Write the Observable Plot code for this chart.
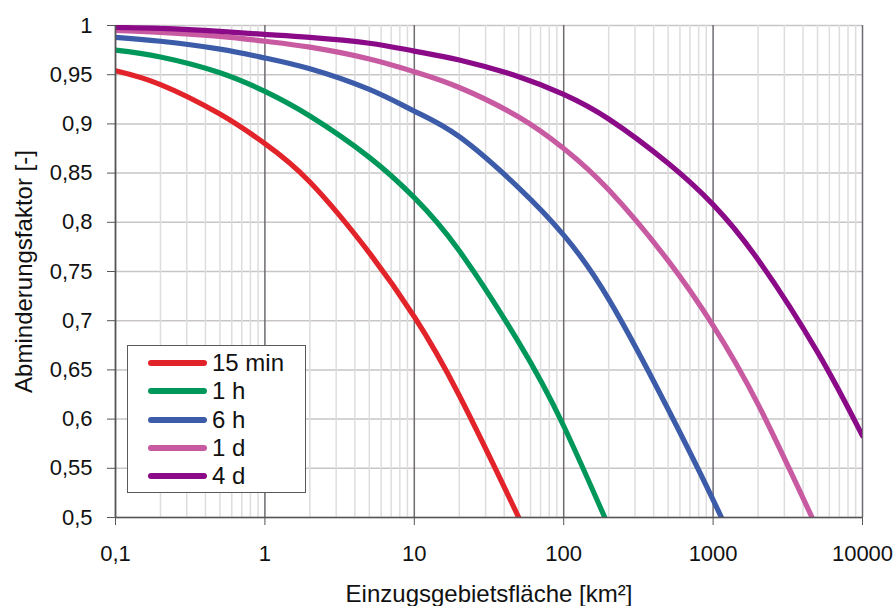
<!DOCTYPE html>
<html>
<head>
<meta charset="utf-8">
<script src="https://cdn.jsdelivr.net/npm/d3@7"></script>
<script src="https://cdn.jsdelivr.net/npm/@observablehq/plot@0.6"></script>
<style>
  body { margin: 0; background: #fff; font-family: "Liberation Sans", Arial, sans-serif; }
  #chart { position: relative; width: 896px; height: 606px; overflow: hidden; }
  #chart svg { display: block; }
  #legend {
    position: absolute; left: 127px; top: 345px; width: 179px; height: 148px;
    box-sizing: border-box; border: 1.5px solid #5a5a5a; background: #fff;
  }
  .row { position: absolute; left: 0; height: 28px; display: flex; align-items: center; }
  .swatch { margin-left: 20px; width: 59px; height: 6px; border-radius: 3px; }
  .lbl { margin-left: 5px; font-size: 24px; color: #111; line-height: 28px; }
</style>
</head>
<body>
<div id="chart"><div id="legend"></div></div>
<script>
// Areal reduction factor vs. catchment area, per rainfall duration
const durations = ["15 min", "1 h", "6 h", "1 d", "4 d"];
const lineColors = ["#e2232a", "#00975b", "#3c5ba8", "#c75aa1", "#8a0a88"];

const area15min   = [0.1, 0.2, 0.5, 1, 2, 5, 10, 20, 50, 60];
const factor15min = [0.954, 0.940, 0.910, 0.880, 0.841, 0.769, 0.704, 0.624, 0.500, 0.474];

const area1h   = [0.1, 0.2, 0.5, 1, 2, 5, 10, 20, 50, 100, 200, 220];
const factor1h = [0.975, 0.968, 0.952, 0.933, 0.908, 0.866, 0.825, 0.771, 0.678, 0.593, 0.491, 0.477];

const area6h   = [0.1, 0.2, 0.5, 1, 2, 5, 10, 20, 50, 100, 200, 500, 1000, 1300];
const factor6h = [0.988, 0.984, 0.976, 0.967, 0.956, 0.935, 0.913, 0.887, 0.835, 0.787, 0.722, 0.610, 0.518, 0.480];

const area1d   = [0.1, 0.2, 0.5, 1, 2, 5, 10, 20, 50, 100, 200, 500, 1000, 2000, 5000];
const factor1d = [0.995, 0.993, 0.989, 0.984, 0.978, 0.966, 0.953, 0.937, 0.907, 0.875, 0.833, 0.761, 0.695, 0.615, 0.488];

const area4d   = [0.1, 0.2, 0.5, 1, 2, 5, 10, 20, 50, 100, 200, 500, 1000, 2000, 5000, 10000];
const factor4d = [0.998, 0.997, 0.994, 0.991, 0.988, 0.982, 0.974, 0.965, 0.948, 0.930, 0.905, 0.860, 0.818, 0.762, 0.668, 0.583];

const xMajor = [0.1, 1, 10, 100, 1000, 10000];
const xMinorSteps = [2, 3, 4, 5, 6, 7, 8, 9];
const yTicks = [0.5, 0.55, 0.6, 0.65, 0.7, 0.75, 0.8, 0.85, 0.9, 0.95, 1];

const seriesAreas = [area15min, area1h, area6h, area1d, area4d];
const seriesFactors = [factor15min, factor1h, factor6h, factor1d, factor4d];

const rows = durations.flatMap((name, s) =>
  seriesAreas[s].map((a, i) => ({name, area: a, factor: seriesFactors[s][i]}))
);
const xMinor = xMajor.slice(0, -1).flatMap(d => xMinorSteps.map(k => +(k * d).toPrecision(6)));
const fmt = d => String(d).replace(".", ",");

const chart = Plot.plot({
  width: 896,
  height: 606,
  marginLeft: 115,
  marginRight: 34,
  marginTop: 25,
  marginBottom: 89,
  style: {fontFamily: "'Liberation Sans', Arial, sans-serif", fontSize: "22px", color: "#111", background: "#fff"},
  x: {type: "log", domain: [0.1, 10000]},
  y: {domain: [0.5, 1]},
  color: {domain: durations, range: lineColors},
  marks: [
    Plot.ruleY(yTicks, {stroke: "#c9c5c6", strokeWidth: 1.5}),
    Plot.ruleX(xMinor, {stroke: "#dddddd", strokeWidth: 1.5}),
    Plot.ruleX(xMajor, {stroke: "#6e6a70", strokeWidth: 1.5}),
    Plot.line(rows, {x: "area", y: "factor", z: "name", stroke: "name", strokeWidth: 5.2, curve: "natural", clip: true}),
    Plot.axisY({ticks: yTicks, tickFormat: fmt, tickSize: 8, tickPadding: 15, label: null, stroke: "#555", fontSize: 22}),
    Plot.axisX({ticks: xMajor, tickFormat: fmt, tickSize: 8, tickPadding: 20, label: null, stroke: "#555", fontSize: 22}),
    Plot.ruleX([0.1], {stroke: "#555", strokeWidth: 1.5}),
    Plot.ruleY([0.5], {stroke: "#555", strokeWidth: 1.5}),
    Plot.text(["Abminderungsfaktor [-]"], {frameAnchor: "left", textAnchor: "middle", rotate: -90, dx: -91, fontSize: 24}),
    Plot.text(["Einzugsgebietsfläche [km²]"], {frameAnchor: "bottom", dy: 84, lineAnchor: "bottom", fontSize: 24})
  ]
});

const holder = document.getElementById("chart");
holder.insertBefore(chart, holder.firstChild);

const legend = document.getElementById("legend");
durations.forEach((name, i) => {
  const row = document.createElement("div");
  row.className = "row";
  row.style.top = (3 + i * 28.3) + "px";
  const sw = document.createElement("div");
  sw.className = "swatch";
  sw.style.background = lineColors[i];
  const lb = document.createElement("span");
  lb.className = "lbl";
  lb.textContent = name;
  row.appendChild(sw);
  row.appendChild(lb);
  legend.appendChild(row);
});
</script>
</body>
</html>
